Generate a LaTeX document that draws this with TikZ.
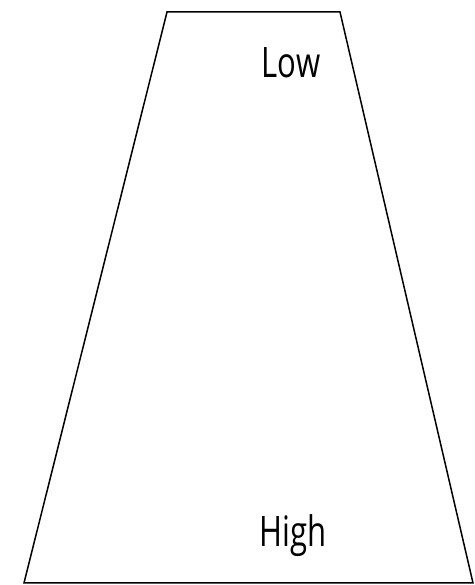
\documentclass[tikz,border=0pt]{standalone}
\usepackage{fontspec}
\newfontfamily\labfont[FakeStretch=0.74]{Open Sans}
\begin{document}
\begin{tikzpicture}[x=1pt,y=1pt,
  edge/.style={line width=1.5pt, line join=miter},
  lab/.style={font=\labfont\fontsize{42}{46}\selectfont, anchor=base, inner sep=0pt}]
\useasboundingbox (0,0) rectangle (474,585);
\coordinate (tl) at (167,573);
\coordinate (tr) at (340,573);
\coordinate (br) at (473,2);
\coordinate (bl) at (24,2);
\draw[edge] (tl) -- (tr) -- (br) -- (bl) -- cycle;
\node[lab] (low) at (291,507) {Low};
\node[lab] (high) at (293,38) {High};
\end{tikzpicture}
\end{document}
